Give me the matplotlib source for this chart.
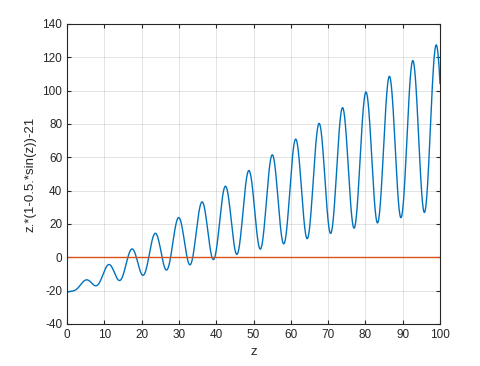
import numpy as np
import matplotlib.pyplot as plt

# curve is the expression given in the y label: z.*(1-0.5.*sin(z))-21
z_start, z_end, n_pts = 0, 100, 2000
amp = 0.5
offset = 21
zero_level = 0

xticks = [0, 10, 20, 30, 40, 50, 60, 70, 80, 90, 100]
yticks = [-40, -20, 0, 20, 40, 60, 80, 100, 120, 140]

z = np.linspace(z_start, z_end, n_pts)
y = z * (1 - amp * np.sin(z)) - offset

plt.rcParams['font.family'] = ['Liberation Sans', 'DejaVu Sans']
plt.rcParams['axes.unicode_minus'] = False
fig = plt.figure(figsize=(4.8, 3.66), dpi=100)
ax = fig.add_axes([0.1396, 0.1148, 0.7771, 0.8197])

ax.plot(z, y, color=(0, 0.447, 0.741), lw=1.0)
ax.plot([z_start, z_end], [zero_level, zero_level], color=(0.85, 0.325, 0.098), lw=1.0)

ax.set_xlim(0, 100)
ax.set_ylim(-40, 140)
ax.set_xticks(xticks)
ax.set_yticks(yticks)
ax.grid(True, color=(0.15, 0.15, 0.15), alpha=0.15, lw=0.6)
ax.tick_params(direction='in', length=3, labelsize=8.5, colors=(0.15, 0.15, 0.15),
               top=True, right=True, labeltop=False, labelright=False)
for s in ax.spines.values():
    s.set_color((0.15, 0.15, 0.15))
    s.set_linewidth(0.8)
ax.set_xlabel('z', fontsize=9.5, color=(0.15, 0.15, 0.15))
ax.set_ylabel('z.*(1-0.5.*sin(z))-21', fontsize=9.5, color=(0.15, 0.15, 0.15))

fig.savefig('out.png', dpi=100)
